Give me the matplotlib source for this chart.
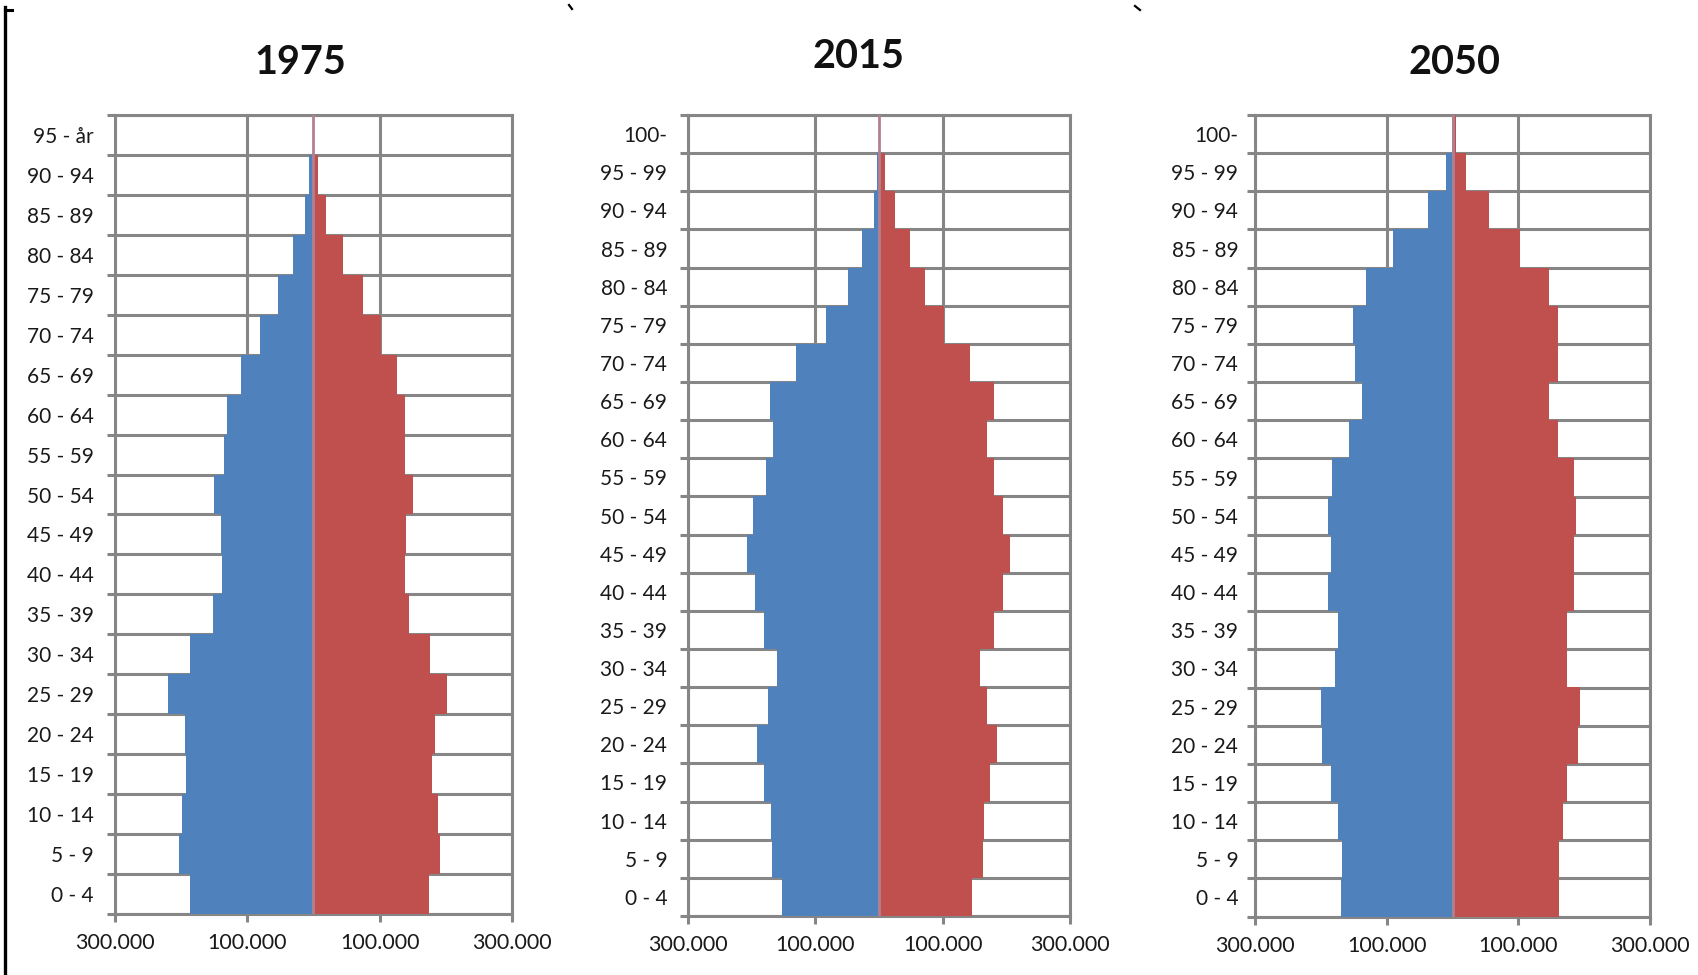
import numpy as np
import matplotlib
matplotlib.use("Agg")
import matplotlib.pyplot as plt
from matplotlib.ticker import FuncFormatter
from matplotlib.lines import Line2D

# ---------------- data ----------------
years = ["1975", "2015", "2050"]

ages_1975 = ["0 - 4", "5 - 9", "10 - 14", "15 - 19", "20 - 24", "25 - 29", "30 - 34",
             "35 - 39", "40 - 44", "45 - 49", "50 - 54", "55 - 59", "60 - 64", "65 - 69",
             "70 - 74", "75 - 79", "80 - 84", "85 - 89", "90 - 94", "95 - år"]
ages_new = ["0 - 4", "5 - 9", "10 - 14", "15 - 19", "20 - 24", "25 - 29", "30 - 34",
            "35 - 39", "40 - 44", "45 - 49", "50 - 54", "55 - 59", "60 - 64", "65 - 69",
            "70 - 74", "75 - 79", "80 - 84", "85 - 89", "90 - 94", "95 - 99", "100-"]

men_1975 = [186000, 204000, 198500, 192500, 193500, 220500, 186500, 151500, 139000, 140000,
            150000, 135000, 131000, 109000, 80500, 54000, 30500, 13500, 6500, 1000]
women_1975 = [175000, 191000, 188000, 178500, 183000, 202000, 176000, 145000, 139000, 140500,
              151000, 138500, 139000, 126000, 102500, 75500, 44500, 18500, 7000, 1000]

men_2015 = [153000, 168500, 169500, 181000, 192000, 175000, 160000, 181000, 195000, 208000,
            198000, 177000, 166000, 171000, 130000, 84000, 48500, 26500, 8500, 3000, 300]
women_2015 = [146000, 164000, 164500, 174000, 186000, 170000, 159000, 180000, 195000, 205000,
              195000, 180000, 170000, 180000, 143000, 102500, 72500, 49000, 25000, 9000, 1500]

men_2050 = [169000, 167500, 174000, 184000, 198000, 200000, 178000, 174000, 189000, 185000,
            189000, 183000, 157000, 138000, 148000, 150500, 131000, 90000, 37500, 10000, 1000]
women_2050 = [162000, 162000, 168000, 174000, 190000, 193500, 174000, 174000, 184000, 184000,
              187500, 184000, 161000, 146000, 161000, 161000, 146000, 103000, 55500, 20000, 5000]

xticks_vals = [-300000, -100000, 100000, 300000]

# ---------------- style ----------------
BLUE = "#4F81BD"
RED = "#C0504D"
GRID = "#868686"
CENTER = "#b4808f"
LW = 2.2

plt.rcParams['font.family'] = ['Lato', 'DejaVu Sans']

W, H = 1699, 975
fig = plt.figure(figsize=(W / 100, H / 100), dpi=100)
fig.patch.set_facecolor("white")

# panel boxes in pixels: left, right, top, bottom
boxes = [(115, 512, 115, 914), (688, 1070, 115, 916), (1255, 1650, 115, 916.5)]
titles_pos = [(300, 62), (859, 57), (1455, 62)]
ypads = [15.5, 15.0, 12.0]

datasets = [(ages_1975, men_1975, women_1975),
            (ages_new, men_2015, women_2015),
            (ages_new, men_2050, women_2050)]

fmt = FuncFormatter(lambda v, p: f"{abs(int(round(v))):,}".replace(",", "."))

for i, ((l, r, t, b), (ages, men, women)) in enumerate(zip(boxes, datasets)):
    ax = fig.add_axes([l / W, 1 - b / H, (r - l) / W, (b - t) / H])
    n = len(ages)
    y = np.arange(n)
    ax.barh(y, -np.array(men), height=1.0, color=BLUE, zorder=3, linewidth=0)
    ax.barh(y, np.array(women), height=1.0, color=RED, zorder=3, linewidth=0)
    ax.axvline(0, color=CENTER, lw=2.0, zorder=4)

    ax.set_xlim(-300000, 300000)
    ax.set_ylim(-0.5, n - 0.5)

    ax.set_xticks(xticks_vals)
    ax.xaxis.set_major_formatter(fmt)
    ax.set_yticks(y)
    ax.set_yticklabels(ages)
    ax.set_yticks(np.arange(n + 1) - 0.5, minor=True)

    ax.grid(axis="x", which="major", color=GRID, lw=LW, zorder=1)
    ax.grid(axis="y", which="minor", color=GRID, lw=LW, zorder=1)
    ax.set_axisbelow(True)

    for s in ax.spines.values():
        s.set_color(GRID)
        s.set_linewidth(LW)
        s.set_zorder(2)

    ax.tick_params(axis="y", which="major", length=0, pad=ypads[i], labelsize=15,
                   labelcolor="#1a1a1a")
    ax.tick_params(axis="y", which="minor", length=6, width=LW, color=GRID, direction="out")
    ax.tick_params(axis="x", which="major", length=6, width=LW, color=GRID, direction="out",
                   pad=8, labelsize=15.5, labelcolor="#1a1a1a")
    ax.tick_params(axis="x", which="minor", length=0)

    tx, ty = titles_pos[i]
    fig.text(tx / W, 1 - ty / H, years[i], ha="center", va="center",
             fontsize=28.5, fontweight="bold", color="#111111")

# frame artifacts of the original screenshot
def px_line(x0, y0, x1, y1, lw=2.2):
    fig.add_artist(Line2D([x0 / W, x1 / W], [1 - y0 / H, 1 - y1 / H],
                          transform=fig.transFigure, color="black", lw=lw))

px_line(5, 7, 5, 975, lw=2.4)
px_line(5, 10, 12, 10, lw=2.2)
px_line(569, 5, 572, 9, lw=1.6)
px_line(1135, 6, 1140, 10, lw=1.6)

fig.savefig("out.png", dpi=100, facecolor="white")
